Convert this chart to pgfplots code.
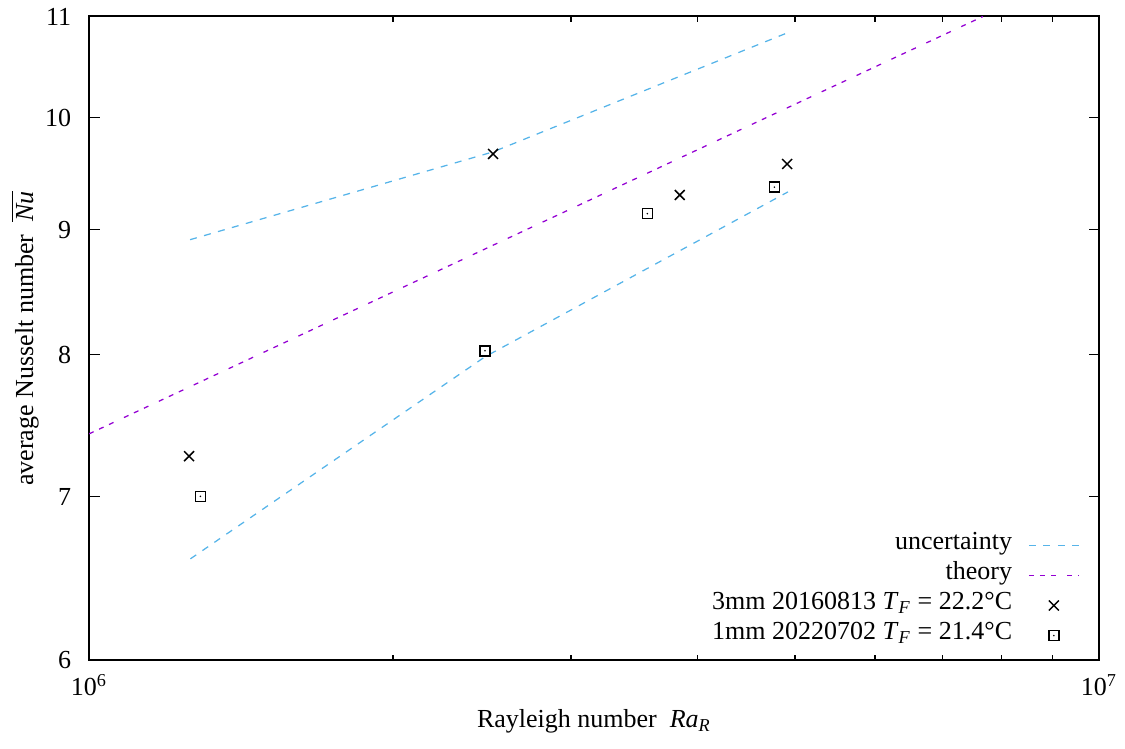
\documentclass[border=0pt]{standalone}
\usepackage{fontspec}
\setmainfont{Liberation Serif}
\usepackage{pgfplots}
\pgfplotsset{compat=1.18}
\definecolor{unc}{HTML}{56B4E9}
\definecolor{theo}{HTML}{9400D3}
\pgfdeclareplotmark{sqdot}{%
  \pgfpathrectangle{\pgfpoint{-\pgfplotmarksize}{-\pgfplotmarksize}}{\pgfpoint{2\pgfplotmarksize}{2\pgfplotmarksize}}%
  \pgfusepathqstroke
  \pgfpathcircle{\pgfpointorigin}{0.35pt}%
  \pgfusepathqfill}
\begin{document}
\fontsize{10.4}{12.5}\selectfont
\begin{tikzpicture}
\begin{axis}[
  name=ax,
  scale only axis, width=404pt, height=257.6pt,
  xmode=log, ymode=log,
  xmin=1e6, xmax=1e7, ymin=6, ymax=11,
  xtick={1e6,1e7}, xticklabels={10\textsuperscript{6},10\textsuperscript{7}},
  minor xtick={2e6,3e6,4e6,5e6,6e6,7e6,8e6,9e6},
  ytick={6,7,8,9,10,11}, yticklabels={6,7,8,9,10,11},
  yminorticks=false,
  major tick length=4.2pt, minor tick length=2.1pt,
  tick style={black, line width=0.5pt},
  axis line style={line width=0.8pt},
  yticklabel style={xshift=-3.5pt},
  xticklabel style={yshift=-2pt},
  xlabel={Rayleigh number\ \ \textit{Ra}\textsubscript{\textit{R}}},
  ylabel={average Nusselt number\ \ $\overline{\mbox{\textit{Nu}}}$},
  every axis x label/.style={at={(axis description cs:0.5,-0.1048)}, anchor=base},
  every axis y label/.style={at={(axis description cs:-0.0554,0.5)}, rotate=90, anchor=base},
  legend cell align=right,
  legend plot pos=right,
  legend image code/.code={\draw[mark repeat=2,mark phase=2] plot coordinates {(0cm,0cm) (0.35cm,0cm) (0.7cm,0cm)};},
  legend style={draw=none, fill=none, at={(axis description cs:0.981,0.0194)}, anchor=south east,
    yshift=-1.2pt, inner sep=0pt, column sep=6.5pt, row sep=0pt,
    nodes={inner sep=0pt, text height=7.5pt, text depth=4.5pt}},
]
\addplot[unc, line width=0.5pt, dash pattern=on 2.8pt off 3pt] coordinates {
  (1.259e6,8.916) (2.51e6,9.683) (4.907e6,10.83)};
\addlegendentry{uncertainty}
\addplot[unc, line width=0.5pt, dash pattern=on 2.8pt off 3pt, forget plot] coordinates {
  (1.26e6,6.603) (2.466e6,7.986) (4.92e6,9.326)};
\addplot[theo, line width=0.5pt, dash pattern=on 2pt off 2.4pt on 2pt off 2.4pt on 2pt off 4.6pt] coordinates {
  (1e6,7.427) (7.676e6,11)};
\addlegendentry{theory}
\addplot[only marks, black, mark=x, mark size=2.8pt, mark options={line width=0.6pt}] coordinates {
  (1.256e6,7.273) (2.512e6,9.665) (3.845e6,9.299) (4.911e6,9.574)};
\addlegendentry{3mm 20160813 \textit{T}\textsubscript{\textit{F}} = 22.2°C}
\addplot[only marks, black, mark=sqdot, mark size=2pt, mark options={line width=0.6pt}] coordinates {
  (1.289e6,7.003) (2.466e6,8.030) (3.571e6,9.137) (4.770e6,9.367)};
\addlegendentry{1mm 20220702 \textit{T}\textsubscript{\textit{F}} = 21.4°C}
\end{axis}
\pgfresetboundingbox
\path[use as bounding box] ([shift={(-35.6pt,-35pt)}]ax.south west) rectangle ([shift={(10.4pt,6.6pt)}]ax.north east);
\end{tikzpicture}
\end{document}
